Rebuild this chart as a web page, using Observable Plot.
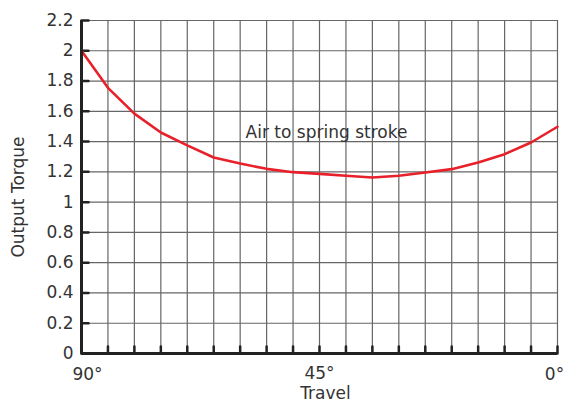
<!DOCTYPE html>
<html>
<head>
<meta charset="utf-8">
<script src="https://cdn.jsdelivr.net/npm/d3@7"></script>
<script src="https://cdn.jsdelivr.net/npm/@observablehq/plot@0.6"></script>
<style>
  html, body { margin: 0; padding: 0; background: #fff; }
</style>
</head>
<body>
<div id="chart"></div>
<script>
// Data
const travel = [90, 85, 80, 75, 70, 65, 60, 55, 50, 45, 40, 35, 30, 25, 20, 15, 10, 5, 0];
const torque = [2.0, 1.755, 1.585, 1.46, 1.375, 1.295, 1.255, 1.22, 1.198, 1.187, 1.174, 1.163, 1.174, 1.196, 1.218, 1.262, 1.317, 1.394, 1.498];
const xGrid = d3.range(0, 91, 5);
const yTicks = [0, 0.2, 0.4, 0.6, 0.8, 1, 1.2, 1.4, 1.6, 1.8, 2, 2.2];
const xLabels = [90, 45, 0];
const annotation = ["Air to spring stroke"];
const yTitle = ["Output Torque"];
const xTitle = ["Travel"];

const data = travel.map((t, i) => ({travel: t, torque: torque[i]}));

const stick = {draw(context, l) { context.moveTo(0, 0); context.lineTo(0, -l); }};
const fmtDeg = d => d + "°";

const chart = Plot.plot({
  width: 565,
  height: 407,
  marginLeft: 81,
  marginRight: 8,
  marginTop: 20,
  marginBottom: 54,
  style: {fontFamily: "'DejaVu Sans', sans-serif", fontSize: "17px", color: "#333", background: "#fff"},
  x: {type: "linear", domain: [90, 0]},
  y: {type: "linear", domain: [0, 2.2]},
  marks: [
    Plot.ruleX(xGrid, {stroke: "#666", strokeWidth: 1.2}),
    Plot.ruleY(yTicks, {stroke: "#666", strokeWidth: 1.2}),
    Plot.axisY({ticks: yTicks, tickSize: 0, tickPadding: 8, tickFormat: d => String(+d.toFixed(1)), label: null, fontSize: 17}),
    Plot.axisX({ticks: [xLabels[0]], tickSize: 0, tickPadding: 14, tickFormat: fmtDeg, fontSize: 17, label: null, dx: 6}),
    Plot.axisX({ticks: [xLabels[1]], tickSize: 0, tickPadding: 13, tickFormat: fmtDeg, fontSize: 17, label: null}),
    Plot.axisX({ticks: [xLabels[2]], tickSize: 0, tickPadding: 14, tickFormat: fmtDeg, fontSize: 17, label: null, dx: -3}),
    Plot.text(yTitle, {frameAnchor: "left", rotate: -90, dx: -63, dy: 10, text: d => d, fontSize: 17, fill: "#333", textAnchor: "middle", lineAnchor: "middle", letterSpacing: "0.6px"}),
    Plot.text(xTitle, {frameAnchor: "bottom", dy: 40, dx: 6, text: d => d, fontSize: 17, fill: "#333", textAnchor: "middle", lineAnchor: "middle", letterSpacing: "0.8px"}),
    Plot.vector(yTicks, {x: () => 90, y: d => d, length: 7, rotate: 90, anchor: "start", stroke: "#222", strokeWidth: 2.5, shape: stick}),
    Plot.vector(xGrid, {x: d => d, y: () => 0, length: 7, rotate: 0, anchor: "start", stroke: "#222", strokeWidth: 2.5, shape: stick}),
    Plot.line(data, {x: "travel", y: "torque", stroke: "#e8202a", strokeWidth: 2.6}),
    Plot.ruleX([90], {stroke: "#222", strokeWidth: 3}),
    Plot.ruleY([0], {stroke: "#222", strokeWidth: 3}),
    Plot.text(annotation, {x: () => 45, y: () => 1.46, dx: 7, text: d => d, fontSize: 17, fill: "#333", letterSpacing: "0.6px"})
  ]
});

document.getElementById("chart").appendChild(chart);
</script>
</body>
</html>
